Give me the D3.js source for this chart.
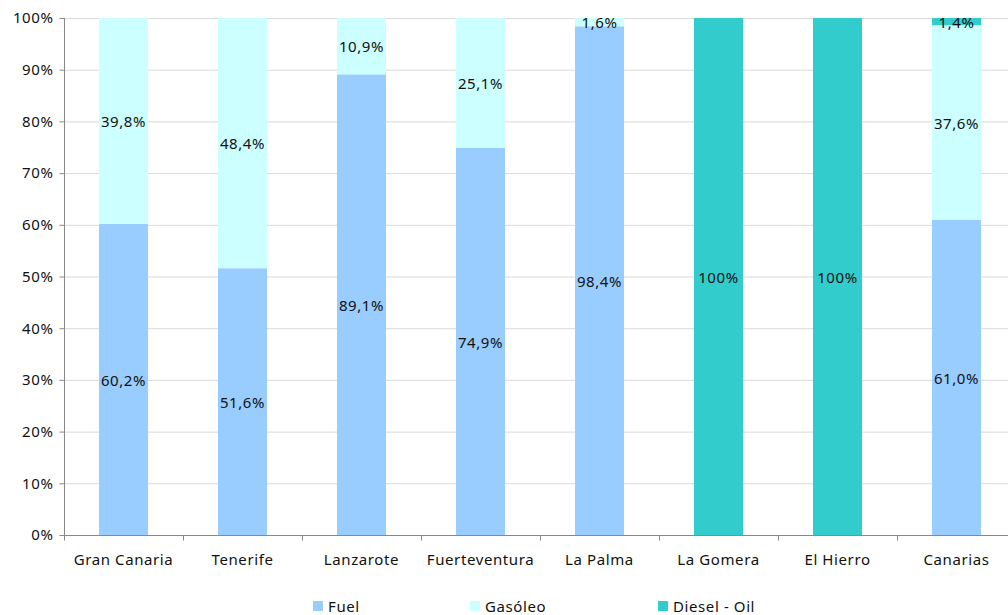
<!DOCTYPE html>
<html><head><meta charset="utf-8">
<script src="https://cdn.jsdelivr.net/npm/d3@7"></script>
<style>body{margin:0;background:#fff;} text{font-family:"Noto Sans","Open Sans",sans-serif;letter-spacing:0.6px;}</style>
</head><body>
<svg id="c" width="1008" height="615"></svg>
<script>
const categories = ["Gran Canaria","Tenerife","Lanzarote","Fuerteventura","La Palma","La Gomera","El Hierro","Canarias"];
const fuel    = [60.2, 51.6, 89.1, 74.9, 98.4, 0, 0, 61.0];
const gasoleo = [39.8, 48.4, 10.9, 25.1, 1.6, 0, 0, 37.6];
const diesel  = [0, 0, 0, 0, 0, 100, 100, 1.4];
const fuelLabels    = ["60,2%","51,6%","89,1%","74,9%","98,4%","","","61,0%"];
const gasoleoLabels = ["39,8%","48,4%","10,9%","25,1%","1,6%","","","37,6%"];
const dieselLabels  = ["","","","","","100%","100%","1,4%"];
const seriesNames = ["Fuel","Gasóleo","Diesel - Oil"];
const colors = ["#99CCFF","#CCFFFF","#33CCCC"];
const yTicks = [0,10,20,30,40,50,60,70,80,90,100];

const svg = d3.select("#c");
const L=64, R=1008, RB=1016, T=18, B=535;
const x = d3.scaleBand().domain(categories).range([L,RB]).paddingInner(0.588).paddingOuter(0.294);
const xb = d3.scaleBand().domain(categories).range([L,RB]);
const y = d3.scaleLinear().domain([0,100]).range([B,T]);

svg.append("g").selectAll("line").data(yTicks.filter(d=>d>0)).join("line")
  .attr("x1",L).attr("x2",R).attr("y1",d=>y(d)+0.5).attr("y2",d=>y(d)+0.5)
  .attr("stroke","#d9d9d9").attr("stroke-width",1);

const table = categories.map((c,i)=>({cat:c, Fuel:fuel[i], "Gasóleo":gasoleo[i], "Diesel - Oil":diesel[i]}));
const labels = [fuelLabels, gasoleoLabels, dieselLabels];
const stack = d3.stack().keys(seriesNames)(table);

stack.forEach((s,k)=>{
  svg.append("g").selectAll("rect").data(s).join("rect")
    .attr("x",d=>x(d.data.cat)).attr("width",x.bandwidth())
    .attr("y",d=>y(d[1])).attr("height",d=>y(d[0])-y(d[1]))
    .attr("fill",colors[k]);
});
stack.forEach((s,k)=>{
  svg.append("g").selectAll("text").data(s).join("text")
    .attr("x",d=>x(d.data.cat)+x.bandwidth()/2)
    .attr("y",d=>y((d[0]+d[1])/2)+1)
    .attr("dy","0.35em").attr("text-anchor","middle")
    .attr("font-size",15).attr("fill","#111")
    .text((d,i)=>labels[k][i]);
});

const ya = d3.axisLeft(y).tickValues(yTicks).tickFormat(d=>d+"%").tickSize(5).tickPadding(6);
const yg = svg.append("g").attr("transform",`translate(${L+0.5},0)`).call(ya);
yg.selectAll("path,line").attr("stroke","#888");
yg.selectAll("text").attr("font-size",15).attr("fill","#111");
yg.select(".domain").attr("d",`M0,${T}V${B}`);

const xg = svg.append("g").attr("transform",`translate(0,${B+0.5})`);
xg.append("line").attr("x1",L).attr("x2",R).attr("stroke","#888");
xg.selectAll("line.t").data(categories).join("line").attr("class","t")
  .attr("x1",d=>xb(d)+0.5).attr("x2",d=>xb(d)+0.5).attr("y1",0).attr("y2",5).attr("stroke","#888");
xg.selectAll("text").data(categories).join("text")
  .attr("x",d=>xb(d)+xb.bandwidth()/2).attr("y",29)
  .attr("text-anchor","middle").attr("font-size",15).attr("fill","#111").text(d=>d);

const legX = [313, 470, 658];
const lg = svg.append("g");
seriesNames.forEach((n,k)=>{
  lg.append("rect").attr("x",legX[k]).attr("y",601).attr("width",10).attr("height",10).attr("fill",colors[k]);
  lg.append("text").attr("x",legX[k]+15).attr("y",612).attr("font-size",15).attr("fill","#111").text(n);
});
</script>
</body></html>
